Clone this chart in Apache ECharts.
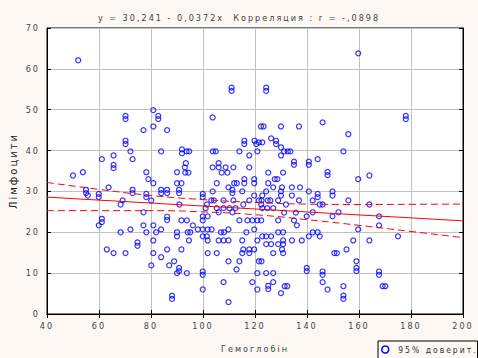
<!DOCTYPE html>
<html>
<head>
<meta charset="utf-8">
<script src="https://cdn.jsdelivr.net/npm/echarts@6/dist/echarts.min.js"></script>
<style>
html,body{margin:0;padding:0;background:#fdf8f4;}
#main{width:478px;height:358px;}
#main svg text{letter-spacing:2px;}
</style>
</head>
<body>
<div id="main"></div>
<script>
// ---- data ----
const hemoglobin = [
 52,70.2,70.2,80.9,82.8,82.8,77.1,80.9,86.2,70.2,70.2,72.1,83.9,61.1,65.6,72.9,65.6,65.6,
 50.0,53.8,78.2,79.0,80.9,90.0,90.0,91.7,63.7,55.0,55.0,55.7,59.9,59.9,72.9,72.9,78.2,78.2,80.1,
 83.9,83.9,86.2,86.2,90.8,90.8,90.9,69.1,68.3,77.1,86.2,86.2,61.1,61.1,59.9,91.7,77.1,80.9,72.1,
 68.3,78.2,82.0,83.9,90.0,90.0,80.9,74.8,74.8,63.0,65.6,70.2,80.9,86.2,91.7,83.9,80.1,87.0,88.9,
 90.8,90.8,90.0,88.1,88.1,
 111.0,111.0,124.3,124.3,103.7,122.3,123.3,130.0,136.9,115.9,115.9,119.8,120.5,121.5,122.8,126.2,
 128.1,128.1,130.0,114.0,117.8,120.9,91.9,91.9,93.7,94.7,103.8,104.9,130.0,131.2,132.6,133.6,
 135.0,135.0,140.7,140.7,93.4,93.0,103.7,106.0,106.0,108.7,111.7,117.8,
 93.2,94.4,107.2,109.4,125.1,130.8,105.3,112.0,113.0,109.8,115.9,115.9,119.7,119.7,125.1,127.6,128.6,
 127.0,130.4,134.2,137.3,140.7,111.3,111.3,115.1,103.7,99.9,99.9,119.7,122.8,124.3,130.0,130.0,
 134.2,136.9,103.2,104.2,107.9,111.7,117.8,121.5,122.5,124.9,125.9,128.9,101.5,115.5,122.4,131.9,
 105.3,107.9,110.2,112.5,101.0,122.8,124.7,127.0,131.2,135.7,139.9,99.9,101.8,106.0,111.3,93.8,
 96.1,99.9,114.0,117.1,119.0,120.9,122.4,119.7,128.9,135.0,136.1,116.7,109.8,98.0,99.9,101.8,103.3,
 94.1,95.1,99.9,101.5,106.9,108.1,94.6,101.8,106.0,107.9,109.8,115.1,120.9,122.8,124.3,126.2,
 128.9,130.8,124.3,126.2,128.9,130.8,130.8,134.2,138.0,140.7,101.8,105.3,115.5,117.8,119.7,115.1,
 117.8,127.0,130.4,130.8,109.8,114.0,121.5,122.5,112.9,93.8,99.9,99.9,120.9,124.3,127.0,139.9,
 139.9,107.9,119.0,127.0,99.9,120.9,125.1,125.1,131.4,132.4,130.0,109.8,
 159.7,178.0,178.0,146.0,155.9,154.0,144.1,
 147.9,147.9,159.7,164.0,144.1,144.1,149.8,149.8,155.9,142.2,144.9,146.0,164.0,142.2,152.1,149.8,
 167.7,167.7,159.7,142.2,144.1,144.9,175.0,157.8,164.0,155.2,150.5,151.5,159.0,159.0,159.0,146.0,
 146.0,167.7,167.7,146.0,169.1,170.1,147.9,154.0,154.0,154.0
];
const lymphocytes = [
 62.1,48.5,47.7,49.9,48.5,47.7,45.0,45.9,45.0,42.4,41.6,39.8,39.8,37.9,38.8,37.9,36.5,35.7,
 33.9,34.7,34.7,33.0,32.0,34.7,32.0,32.0,31.0,30.4,29.6,29.0,29.4,28.6,30.4,29.6,29.4,28.6,27.8,
 30.4,29.6,30.4,29.6,30.4,29.6,26.8,27.8,26.8,24.9,23.8,23.0,23.3,22.5,21.7,22.9,21.7,21.7,20.7,
 20.0,20.0,20.0,20.7,20.0,19.0,18.0,17.5,16.7,15.8,14.9,14.9,14.9,15.8,15.8,13.9,11.9,11.9,12.9,
 11.3,10.5,10.0,4.5,3.7,
 55.4,54.6,55.4,54.6,48.1,45.9,45.9,45.9,45.9,42.4,41.6,42.4,41.6,42.0,42.0,43.0,
 42.4,41.6,40.8,39.8,38.8,39.8,40.3,39.3,39.8,39.8,39.8,39.8,38.8,39.8,39.8,39.8,
 37.3,36.5,37.3,36.5,36.9,35.9,35.9,36.9,35.9,35.9,35.9,35.9,
 34.6,34.6,34.6,34.6,34.6,34.6,32.0,32.0,32.0,31.0,33.0,32.0,33.0,32.0,32.0,33.0,33.0,
 31.0,31.0,31.0,31.0,30.0,30.4,29.6,30.0,30.0,29.4,28.6,29.0,29.0,30.0,30.0,29.0,
 29.0,27.8,27.8,27.8,27.8,27.8,27.8,27.8,27.8,27.8,27.8,27.8,26.8,26.8,26.8,26.8,
 25.9,25.9,25.9,25.9,25.9,25.9,25.9,25.9,24.8,24.8,23.9,23.9,23.9,24.9,24.9,22.9,
 21.7,22.9,22.9,22.9,22.9,22.9,22.9,20.7,22.9,22.9,21.7,20.0,20.7,20.7,20.7,20.7,20.7,
 20.0,20.0,19.0,19.0,20.0,20.0,18.0,18.0,18.0,18.0,18.0,18.0,18.0,19.0,19.0,19.0,
 20.0,20.0,17.1,17.1,17.1,17.1,18.0,18.0,18.0,19.0,14.9,14.9,15.8,15.8,15.8,14.9,
 14.9,14.9,15.8,14.9,12.9,12.9,12.9,12.9,10.9,10.0,10.4,9.6,10.0,10.0,10.0,11.3,
 10.5,7.8,7.8,7.8,6.0,6.0,6.9,6.1,6.8,6.8,5.1,2.9,
 63.8,48.5,47.7,46.9,44.0,39.8,37.9,
 34.8,34.0,33.0,33.9,29.4,28.6,30.0,29.0,27.8,27.8,26.8,26.8,26.8,24.9,24.9,23.9,
 23.9,21.7,20.7,20.0,20.0,19.0,19.0,18.0,18.0,15.8,14.9,14.9,12.9,11.3,10.5,10.4,
 9.6,10.4,9.6,7.8,6.8,6.8,6.0,6.8,4.5,3.7
];
// regression line end points
const regX = [40, 200];
const regY = [28.6, 22.8];
// 95% confidence band
const bandX = [40, 60, 80, 100, 120, 140, 160, 180, 200];
const bandUpper = [32.2, 30.5, 29.0, 28.0, 27.3, 26.9, 26.8, 26.85, 26.9];
const bandLower = [25.3, 25.3, 25.3, 25.0, 24.3, 23.1, 21.7, 20.2, 18.7];
// axis ticks
const xTicks = {min: 40, max: 200, step: 20};
const yTicks = {min: 0, max: 70, step: 10};

const titleText = 'y = 30,241 - 0,0372x  Корреляция : r = -,0898';
const xName = 'Гемоглобін';
const yName = 'Лімфоцити';
const legendName = '95% доверит.';

const FONT = '"Liberation Sans Narrow","DejaVu Sans Condensed","Arial Narrow",sans-serif';

const chart = echarts.init(document.getElementById('main'), null, {renderer: 'svg'});
const pts = hemoglobin.map((x, i) => [x, lymphocytes[i]]);
const zip = (a, b) => a.map((x, i) => [x, b[i]]);

const axisCommon = {
  axisLine: {show: true, lineStyle: {color: '#000', width: 1}},
  axisTick: {show: true, inside: true, length: 4, lineStyle: {color: '#000'}},
};

chart.setOption({
  backgroundColor: '#fdf8f4',
  animation: false,
  title: {
    text: titleText,
    left: 'center',
    top: 8,
    textStyle: {fontFamily: FONT, fontSize: 9, fontWeight: 'normal', color: '#444'}
  },
  grid: {
    left: 43, right: 15, top: 28, bottom: 44,
    show: true, backgroundColor: '#ffffff', borderColor: '#000', borderWidth: 1
  },
  legend: {
    left: 378, top: 341,
    padding: [4, 24, 6, 3],
    borderColor: '#000', borderWidth: 1,
    backgroundColor: '#fdf8f4',
    itemWidth: 16, itemHeight: 7,
    textStyle: {fontFamily: FONT, fontSize: 8.5, color: '#333'},
    data: [{
      name: legendName, icon: 'circle',
      itemStyle: {color: 'rgba(0,0,0,0)', borderColor: '#0000ff', borderWidth: 1.5},
      lineStyle: {color: '#ff0000', type: 'solid', width: 1}
    }]
  },
  xAxis: [{
    type: 'value', min: xTicks.min, max: xTicks.max, interval: xTicks.step,
    name: xName, nameLocation: 'middle', nameGap: 30,
    nameTextStyle: {fontFamily: FONT, fontSize: 9, color: '#444'},
    axisLabel: {fontFamily: FONT, fontSize: 9, color: '#444', margin: 7},
    splitLine: {show: true, lineStyle: {color: '#c0c0c0', width: 1}},
    ...axisCommon
  }, {
    type: 'value', position: 'top', min: xTicks.min, max: xTicks.max, interval: xTicks.step,
    axisLabel: {show: false}, splitLine: {show: false}, ...axisCommon
  }],
  yAxis: [{
    type: 'value', min: yTicks.min, max: yTicks.max, interval: yTicks.step,
    name: yName, nameLocation: 'middle', nameGap: 29,
    nameTextStyle: {fontFamily: '"DejaVu Sans","Liberation Sans",sans-serif', fontSize: 10, color: '#222'},
    axisLabel: {fontFamily: FONT, fontSize: 9, color: '#444', margin: 7},
    splitLine: {show: true, lineStyle: {color: '#c0c0c0', width: 1}},
    ...axisCommon
  }, {
    type: 'value', position: 'right', min: yTicks.min, max: yTicks.max, interval: yTicks.step,
    axisLabel: {show: false}, splitLine: {show: false}, ...axisCommon
  }],
  series: [
    {
      name: yName, type: 'scatter', data: pts, symbol: 'circle', symbolSize: 5,
      itemStyle: {color: 'rgba(0,0,0,0)', borderColor: '#0000ff', borderWidth: 1.2},
      z: 3
    },
    {
      name: 'regression', type: 'line', data: zip(regX, regY), symbol: 'none',
      lineStyle: {color: '#ff0000', width: 1}, z: 4
    },
    {
      name: legendName, type: 'line', data: zip(bandX, bandUpper), symbol: 'none', smooth: true,
      itemStyle: {color: '#ff0000'},
      lineStyle: {color: '#ff0000', width: 1, type: [7, 4]}, z: 4
    },
    {
      name: legendName, type: 'line', data: zip(bandX, bandLower), symbol: 'none', smooth: true,
      itemStyle: {color: '#ff0000'},
      lineStyle: {color: '#ff0000', width: 1, type: [7, 4]}, z: 4
    }
  ]
});
</script>
</body>
</html>
